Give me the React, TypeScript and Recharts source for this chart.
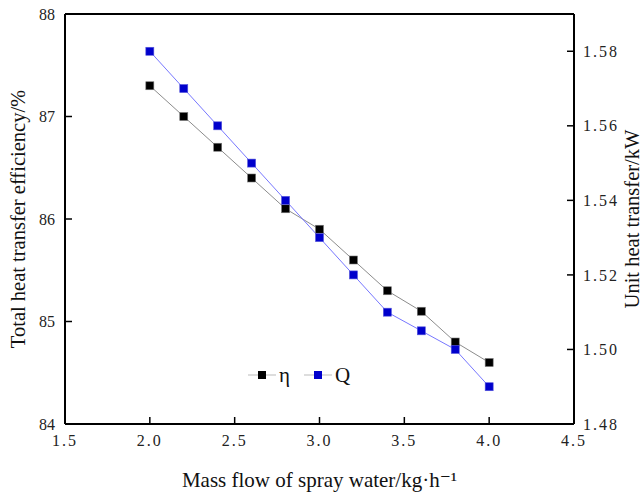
import React from "react";
import {
  LineChart,
  Line,
  XAxis,
  YAxis,
  ReferenceLine,
} from "recharts";

// ─── Data ────────────────────────────────────────────────────────────────────

const flow = [2.0, 2.2, 2.4, 2.6, 2.8, 3.0, 3.2, 3.4, 3.6, 3.8, 4.0];
const eta = [87.3, 87.0, 86.7, 86.4, 86.1, 85.9, 85.6, 85.3, 85.1, 84.8, 84.6];
const heat = [1.58, 1.57, 1.56, 1.55, 1.54, 1.53, 1.52, 1.51, 1.505, 1.5, 1.49];

const xTicks = [1.5, 2.0, 2.5, 3.0, 3.5, 4.0, 4.5];
const leftTicks = [84, 85, 86, 87, 88];
const rightTicks = [1.48, 1.5, 1.52, 1.54, 1.56, 1.58];

const data = flow.map((f, i) => ({ flow: f, eta: eta[i], q: heat[i] }));

const SERIF = "'Liberation Serif', 'DejaVu Serif', serif";
const TICK_LEN = 7;

// ─── Ticks (drawn inward) ────────────────────────────────────────────────────

function XTick({ x, y, payload }: any) {
  return (
    <g>
      <line x1={x} x2={x} y1={y - 8} y2={y - 8 - TICK_LEN} stroke="#000" strokeWidth={1.5} />
      <text x={x} y={y} dy="0.85em" textAnchor="middle" fontSize={16} fontFamily={SERIF} letterSpacing={2} fill="#222">
        {payload.value.toFixed(1)}
      </text>
    </g>
  );
}

function LeftTick({ x, y, payload }: any) {
  return (
    <g>
      <line x1={x + 10} x2={x + 10 + TICK_LEN} y1={y} y2={y} stroke="#000" strokeWidth={1.5} />
      <text x={x} y={y} dy="0.35em" textAnchor="end" fontSize={16} fontFamily={SERIF} fill="#222">
        {payload.value}
      </text>
    </g>
  );
}

function RightTick({ x, y, payload }: any) {
  return (
    <g>
      <line x1={x - 9} x2={x - 9 - TICK_LEN} y1={y} y2={y} stroke="#000" strokeWidth={1.5} />
      <text x={x} y={y} dy="0.35em" textAnchor="start" fontSize={16} fontFamily={SERIF} letterSpacing={2} fill="#222">
        {payload.value.toFixed(2)}
      </text>
    </g>
  );
}

// ─── Markers ─────────────────────────────────────────────────────────────────

function squareDot(fill: string, edge: string) {
  return (props: any) => {
    const { cx, cy, index } = props;
    return (
      <rect key={index} x={cx - 4} y={cy - 4} width={8} height={8} fill={fill} stroke={edge} strokeWidth={0.6} />
    );
  };
}

// ─── Legend (overlay, so it doesn't steal plot space) ────────────────────────

function LegendItem({ line, fill, label }: { line: string; fill: string; label: string }) {
  return (
    <span style={{ display: "inline-flex", alignItems: "center", marginRight: 14 }}>
      <svg width={28} height={12}>
        <line x1={0} x2={28} y1={6} y2={6} stroke={line} strokeWidth={1} />
        <rect x={10} y={2} width={8} height={8} fill={fill} />
      </svg>
      <span style={{ fontFamily: SERIF, fontSize: 21, marginLeft: 3, color: "#111", lineHeight: "22px" }}>{label}</span>
    </span>
  );
}

function ChartLegend() {
  return (
    <div style={{ position: "absolute", left: 248, top: 364, display: "flex", alignItems: "center" }}>
      <LegendItem line="#bbbbbb" fill="#000000" label="η" />
      <LegendItem line="#bbbbbb" fill="#0000cc" label="Q" />
    </div>
  );
}

// ─── Chart ───────────────────────────────────────────────────────────────────

export default function App() {
  return (
    <div style={{ position: "absolute", left: 0, top: 0, width: 642, height: 496, background: "#fff" }}>
      <LineChart width={642} height={496} data={data} margin={{ top: 14, right: 0, left: 0, bottom: 0 }}>
        <XAxis
          type="number"
          dataKey="flow"
          domain={[1.5, 4.5]}
          ticks={xTicks}
          height={72}
          tickSize={0}
          tickMargin={8}
          tickLine={false}
          tick={<XTick />}
          axisLine={{ stroke: "#000", strokeWidth: 2 }}
          label={{
            value: "Mass flow of spray water/kg·h⁻¹",
            position: "insideBottom",
            offset: 9,
            style: { fontFamily: SERIF, fontSize: 21, fill: "#111" },
          }}
        />
        <YAxis
          yAxisId="left"
          domain={[84, 88]}
          ticks={leftTicks}
          width={65}
          tickSize={0}
          tickMargin={10}
          tickLine={false}
          tick={<LeftTick />}
          axisLine={{ stroke: "#000", strokeWidth: 2 }}
          label={{
            value: "Total heat transfer efficiency/%",
            angle: -90,
            position: "insideLeft",
            offset: 18,
            style: { fontFamily: SERIF, fontSize: 20.5, fill: "#111", textAnchor: "middle" },
          }}
        />
        <YAxis
          yAxisId="right"
          orientation="right"
          domain={[1.48, 1.59]}
          ticks={rightTicks}
          width={68}
          tickSize={0}
          tickMargin={9}
          tickLine={false}
          tick={<RightTick />}
          axisLine={{ stroke: "#000", strokeWidth: 2 }}
          label={{
            value: "Unit heat transfer/kW",
            angle: -90,
            position: "insideRight",
            offset: 10,
            style: { fontFamily: SERIF, fontSize: 20.5, fill: "#111", textAnchor: "middle" },
          }}
        />
        <ReferenceLine yAxisId="left" y={88} stroke="#000" strokeWidth={2} />
        <Line
          yAxisId="left"
          dataKey="eta"
          name="η"
          stroke="#8c8c8c"
          strokeWidth={1}
          dot={squareDot("#000000", "#777777")}
          activeDot={false}
          isAnimationActive={false}
        />
        <Line
          yAxisId="right"
          dataKey="q"
          name="Q"
          stroke="#7777ff"
          strokeWidth={1}
          dot={squareDot("#0000cc", "#5555dd")}
          activeDot={false}
          isAnimationActive={false}
        />
      </LineChart>
      <ChartLegend />
    </div>
  );
}
